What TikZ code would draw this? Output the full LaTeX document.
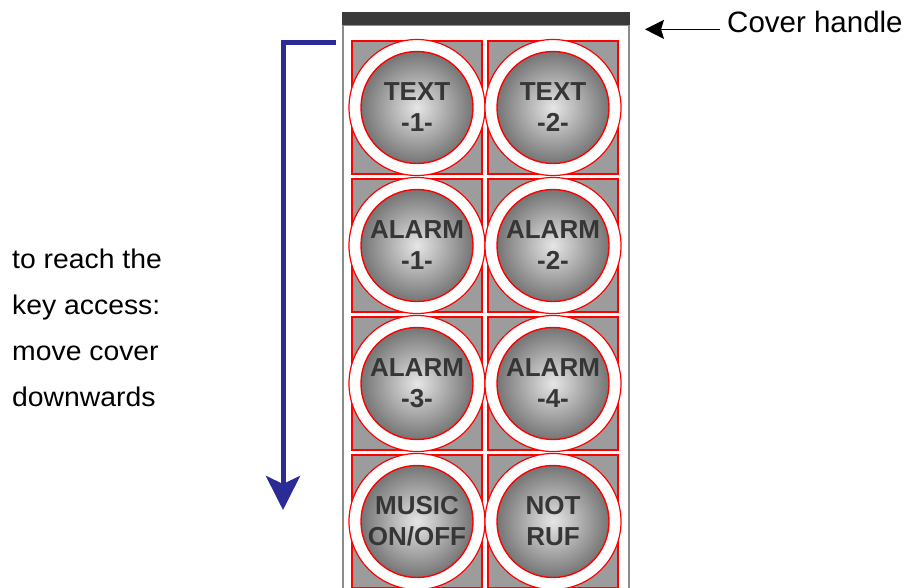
\documentclass[tikz,border=0pt]{standalone}
\usepackage{fontspec}
\setmainfont{Liberation Sans}
\newfontfamily\widesans[FakeStretch=1.05]{Liberation Sans}
\usetikzlibrary{arrows.meta}
\definecolor{cellgray}{HTML}{9C9C9C}
\definecolor{ballhi}{HTML}{E6E6E6}
\definecolor{ballsh}{HTML}{757575}
\definecolor{keytext}{HTML}{363636}
\definecolor{coverblue}{HTML}{2B2B98}
\definecolor{handlegray}{HTML}{3A3A3A}
\definecolor{framegray}{HTML}{8C8C8C}
\begin{document}
\begin{tikzpicture}[x=1pt,y=-1pt,
  keycell/.style={draw=red, fill=cellgray, line width=1.2pt, minimum width=130pt, minimum height=133pt, inner sep=0pt},
  keyring/.style={circle, draw=red, fill=white, line width=1.2pt, minimum size=136pt, inner sep=0pt},
  keyball/.style={circle, draw=red, line width=1.4pt, inner color=ballhi, outer color=ballsh, minimum size=112pt, inner sep=0pt, align=center, text=keytext, font=\fontsize{26}{31}\selectfont\bfseries},
  hint/.style={anchor=base west, inner sep=0pt, font=\widesans\fontsize{27}{30}\selectfont}]
\useasboundingbox (0,0) rectangle (905,587);
% cover
\draw[framegray, line width=2pt, fill=white] (343,25) rectangle (629,600);
\node[fill=handlegray, minimum width=288pt, minimum height=13pt, inner sep=0pt] (handle) at (486,18.5){};
% keys
\foreach \name/\x/\y/\txt in {text1/417/107.5/{TEXT\\-1-}, text2/553/107.5/{TEXT\\-2-},
  alarm1/417/245.5/{ALARM\\-1-}, alarm2/553/245.5/{ALARM\\-2-},
  alarm3/417/383.5/{ALARM\\-3-}, alarm4/553/383.5/{ALARM\\-4-},
  music/417/521.5/{MUSIC\\ON/OFF}, notruf/553/521.5/{NOT\\RUF}}{
  \node[keycell] (cell\name) at (\x,\y){};
  \node[keyring] (ring\name) at (\x,\y){};
  \node[keyball] (\name) at (\x,\y){\txt};
}
% slide hint
\foreach \i/\y/\txt in {1/268/to reach the, 2/314/key access:, 3/360/move cover, 4/406/downwards}{
  \node[hint] (hint\i) at (12,\y){\txt};
}
\coordinate (slidestart) at (336,42);
\coordinate (slideend) at (283,510);
\draw[coverblue, line width=5pt, -{Stealth[length=34pt,width=34pt,inset=8pt]}] (slidestart) -| (slideend);
% handle label
\node[anchor=base west, inner sep=0pt, font=\fontsize{29.5}{30}\selectfont] (cover) at (727,32){Cover handle};
\draw[line width=1.6pt, -{Stealth[length=19pt,width=19pt,inset=3pt]}] ([xshift=-7pt]cover.mid west) -- ([xshift=-82pt]cover.mid west);
\end{tikzpicture}
\end{document}
